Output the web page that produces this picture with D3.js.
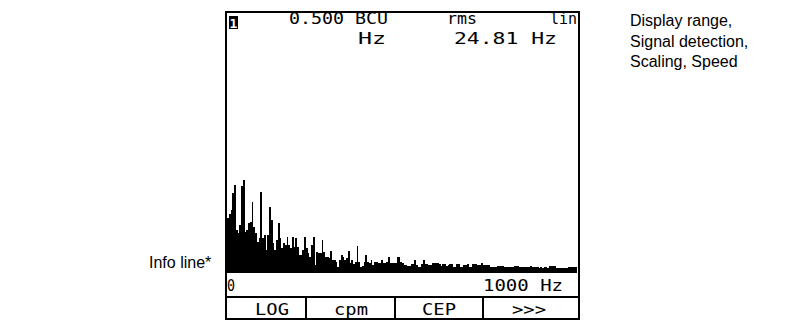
<!DOCTYPE html>
<html><head><meta charset="utf-8">
<script src="https://cdn.jsdelivr.net/npm/d3@7"></script>
<style>
html,body{margin:0;padding:0;background:#fff;}
svg{display:block;}
.lcd{font-family:"DejaVu Sans Mono",monospace;font-size:15px;fill:#000;}
.note{font-family:"Liberation Sans",Arial,sans-serif;font-size:16px;fill:#000;}
</style></head>
<body>
<svg id="c" width="808" height="320"></svg>
<script>
// ---- data ----
const freqMax = 1000;          // Hz
const binWidth = 5;            // Hz per line
const fullScale = 0.5;         // BCU
const amplitudes = [
0.122,0.131,0.139,0.177,0.195,0.095,0.088,0.106,0.192,0.206,
0.091,0.095,0.111,0.113,0.157,0.102,0.088,0.069,0.077,0.179,
0.077,0.084,0.051,0.084,0.146,0.117,0.066,0.051,0.073,0.111,
0.077,0.055,0.066,0.062,0.080,0.062,0.055,0.080,0.058,0.077,
0.058,0.040,0.040,0.051,0.080,0.055,0.044,0.035,0.062,0.080,
0.018,0.046,0.044,0.044,0.073,0.046,0.035,0.035,0.033,0.049,
0.029,0.029,0.024,0.013,0.029,0.040,0.035,0.029,0.033,0.049,
0.022,0.029,0.020,0.024,0.060,0.024,0.013,0.015,0.024,0.040,
0.024,0.022,0.029,0.018,0.024,0.024,0.022,0.022,0.029,0.022,
0.022,0.024,0.035,0.022,0.022,0.022,0.022,0.035,0.035,0.024,
0.022,0.018,0.018,0.015,0.015,0.020,0.020,0.029,0.018,0.013,
0.013,0.020,0.029,0.020,0.020,0.018,0.018,0.022,0.022,0.022,
0.022,0.020,0.015,0.020,0.020,0.015,0.018,0.020,0.020,0.013,
0.013,0.020,0.020,0.013,0.013,0.018,0.018,0.020,0.013,0.013,
0.020,0.020,0.020,0.018,0.018,0.022,0.018,0.018,0.018,0.018,
0.013,0.013,0.013,0.013,0.015,0.015,0.015,0.015,0.013,0.013,
0.013,0.013,0.013,0.013,0.015,0.015,0.015,0.013,0.013,0.013,
0.013,0.013,0.013,0.015,0.013,0.013,0.013,0.013,0.011,0.013,
0.011,0.013,0.013,0.011,0.015,0.015,0.015,0.015,0.011,0.011,
0.011,0.011,0.011,0.011,0.011,0.013,0.013,0.013,0.013,0.013
];
const headerTexts = ["0.500 BCU","Hz","rms","lin","24.81 Hz"];
const axisLabels = ["0","1000 Hz"];
const softKeys = ["LOG","cpm","CEP",">>>"];
const noteLines = ["Display range,","Signal detection,","Scaling, Speed"];
const infoLabel = "Info line*";

// ---- layout ----
const svg = d3.select("#c");
const F = {x0:226, x1:579, y0:12, y1:319};
const plot = {x0:227, x1:577, yBase:273, yTop:47};

const x = d3.scaleLinear().domain([0,freqMax]).range([plot.x0, plot.x1]);
const y = d3.scaleLinear().domain([0,fullScale]).range([plot.yBase, plot.yTop]);

const pts = amplitudes.map((v,i)=>({f:i*binWidth, v}));
pts.push({f:freqMax, v:amplitudes[amplitudes.length-1]});

svg.append("path")
  .datum(pts)
  .attr("d", d3.area().curve(d3.curveStepAfter)
      .x(d=>x(d.f)).y0(plot.yBase).y1(d=>y(d.v)))
  .attr("fill","#000")
  .attr("shape-rendering","crispEdges");
svg.append("rect").attr("x",plot.x0).attr("y",plot.yBase-4).attr("width",plot.x1-plot.x0).attr("height",4)
  .attr("fill","#000").attr("shape-rendering","crispEdges");

// frame
const g = svg.append("g").attr("shape-rendering","crispEdges");
g.append("rect").attr("x",F.x0-1).attr("y",F.y0-1).attr("width",2).attr("height",F.y1-F.y0+2).attr("fill","#000");
g.append("rect").attr("x",F.x1-1).attr("y",F.y0-1).attr("width",2).attr("height",F.y1-F.y0+2).attr("fill","#000");
g.append("rect").attr("x",F.x0-1).attr("y",F.y0-1).attr("width",F.x1-F.x0+2).attr("height",2).attr("fill","#000");
g.append("rect").attr("x",F.x0).attr("y",296).attr("width",F.x1-F.x0).attr("height",1.5).attr("fill","#000");
g.append("rect").attr("x",F.x0).attr("y",318).attr("width",F.x1-F.x0).attr("height",1.5).attr("fill","#000");

// channel icon
svg.append("rect").attr("x",229).attr("y",16).attr("width",9).attr("height",13).attr("fill","#000");
svg.append("text").attr("x",233.5).attr("y",27.5).attr("text-anchor","middle")
  .attr("font-family","DejaVu Sans Mono").attr("font-size",13).attr("font-weight","bold").attr("fill","#fff").text("1");

// header
const hdr = [
  {t:headerTexts[0], x:289, y:24, w:99},
  {t:headerTexts[1], x:358, y:44, w:28},
  {t:headerTexts[2], x:447, y:24, w:30},
  {t:headerTexts[3], x:550, y:24, w:27},
  {t:headerTexts[4], x:454, y:44, w:103}
];
svg.selectAll("text.h").data(hdr).join("text").attr("class","lcd h")
  .attr("x",d=>d.x).attr("y",d=>d.y).attr("textLength",d=>d.w).attr("lengthAdjust","spacingAndGlyphs")
  .text(d=>d.t);

// axis labels
svg.append("text").attr("class","lcd").attr("x",227).attr("y",291).attr("textLength",8).attr("lengthAdjust","spacingAndGlyphs").text(axisLabels[0]);
svg.append("text").attr("class","lcd").attr("x",483).attr("y",291).attr("textLength",80).attr("lengthAdjust","spacingAndGlyphs").text(axisLabels[1]);

// soft keys
const keyEdges = [F.x0, 306, 395, 483, F.x1];
const keyCenters = [272, 351, 439, 529];
softKeys.forEach((k,i)=>{
  if(i>0) g.append("rect").attr("x",keyEdges[i]-0.75).attr("y",297).attr("width",1.5).attr("height",22).attr("fill","#000");
  svg.append("text").attr("class","lcd").attr("x",keyCenters[i]-17).attr("y",315)
    .attr("textLength",34).attr("lengthAdjust","spacingAndGlyphs").text(k);
});

// notes
svg.selectAll("text.n").data(noteLines).join("text").attr("class","note n")
  .attr("x",630).attr("y",(d,i)=>26+i*20.5).text(d=>d);
svg.append("text").attr("class","note").attr("x",149).attr("y",268).text(infoLabel);
</script>
</body></html>
